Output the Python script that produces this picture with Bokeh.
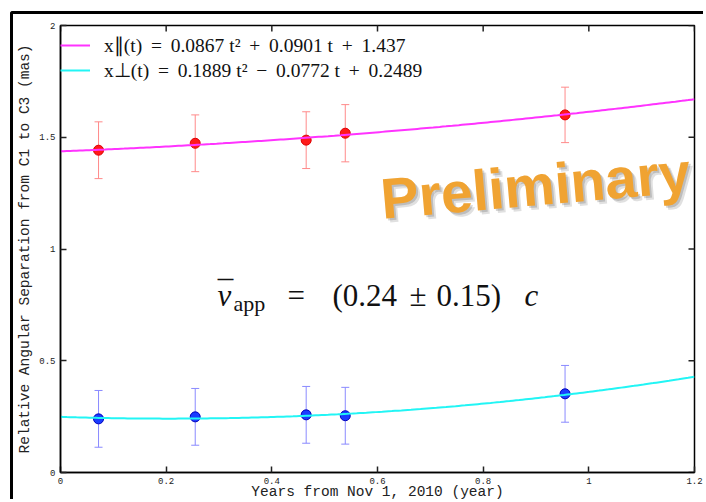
import numpy as np
from bokeh.plotting import figure
from bokeh.models import (ColumnDataSource, Whisker, TeeHead, Range1d,
                          FixedTicker, CustomJSTickFormatter, Label, Legend, LegendItem)
from bokeh.embed import file_html
from bokeh.resources import INLINE

# ---------------- data ----------------
t_obs = [0.072, 0.255, 0.465, 0.539, 0.955]
par_y = [1.442, 1.473, 1.487, 1.518, 1.600]
par_err = [0.127, 0.127, 0.127, 0.128, 0.124]
perp_y = [0.240, 0.249, 0.258, 0.254, 0.352]
perp_err = [0.127, 0.127, 0.127, 0.127, 0.127]

# fit coefficients (a t^2 + b t + c), as printed in the legend
par_coef = [0.0867, 0.0901, 1.437]
perp_coef = [0.1889, -0.0772, 0.2489]

x_ticks = [0, 0.2, 0.4, 0.6, 0.8, 1.0, 1.2]
y_ticks = [0, 0.5, 1.0, 1.5, 2.0]

S = "\u2009"
par_label = "x\u2225(t) " + S + "=" + S + " 0.0867 t\u00b2 " + S + "+" + S + " 0.0901 t " + S + "+" + S + " 1.437"
perp_label = "x\u22a5(t) " + S + "=" + S + " 0.1889 t\u00b2 " + S + "\u2212" + S + " 0.0772 t " + S + "+" + S + " 0.2489"

# ---------------- figure ----------------
p = figure(width=693, height=488, output_backend="svg", toolbar_location=None,
           x_range=Range1d(0, 1.2), y_range=Range1d(0, 2),
           min_border_left=47, min_border_top=11, min_border_right=12, min_border_bottom=29,
           background_fill_color="white", border_fill_color="white")
# outer frame of the original figure (only its top/left edges are in view)
p.styles = {"border-left": "3px solid black", "border-top": "3px solid black",
            "border-top-left-radius": "3px", "margin-left": "10px", "margin-top": "11px"}
p.grid.visible = False
p.outline_line_color = "black"
p.outline_line_width = 1.5

fmt = CustomJSTickFormatter(code="return tick.toFixed(1).replace(/\\.0$/, '');")

def style_axis(ax, ticks, standoff):
    ax.ticker = FixedTicker(ticks=ticks)
    ax.formatter = fmt
    ax.major_tick_in = 6
    ax.major_tick_out = 0
    ax.minor_tick_line_color = None
    ax.major_tick_line_color = "#222222"
    ax.major_tick_line_width = 1.5
    ax.axis_line_color = "black"
    ax.axis_line_width = 1.5
    ax.major_label_text_font = "Liberation Mono"
    ax.major_label_text_font_size = "9px"
    ax.major_label_text_color = "#222222"
    ax.major_label_standoff = standoff
    ax.axis_label_text_font = "Liberation Mono"
    ax.axis_label_text_font_size = "14.5px"
    ax.axis_label_text_font_style = "normal"
    ax.axis_label_text_color = "#222222"

style_axis(p.xaxis[0], x_ticks, 5)
style_axis(p.yaxis[0], y_ticks, 5)
p.yaxis[0].axis_label = "Relative Angular Separation from C1 to C3 (mas)"
p.yaxis[0].axis_label_standoff = 3
p.xaxis[0].axis_label = "Years from Nov 1, 2010 (year)"
p.xaxis[0].axis_label_standoff = -3

# mirrored inward ticks on top and right (half of each dash is clipped by the frame)
p.scatter(x=[p.x_range.end] * len(y_ticks), y=y_ticks, marker="dash", size=12,
          line_color="#222222", line_width=1.5)
p.scatter(x=x_ticks, y=[p.y_range.end] * len(x_ticks), marker="dash", size=12, angle=np.pi / 2,
          line_color="#222222", line_width=1.5)

# ---------------- error bars ----------------
src_par = ColumnDataSource(dict(x=t_obs, y=par_y,
                                lo=[v - e for v, e in zip(par_y, par_err)],
                                hi=[v + e for v, e in zip(par_y, par_err)]))
src_perp = ColumnDataSource(dict(x=t_obs, y=perp_y,
                                 lo=[v - e for v, e in zip(perp_y, perp_err)],
                                 hi=[v + e for v, e in zip(perp_y, perp_err)]))

for src, col in ((src_par, "#ff8a8a"), (src_perp, "#8a8aff")):
    w = Whisker(source=src, base="x", lower="lo", upper="hi", line_color=col, line_width=1,
                upper_head=TeeHead(size=8, line_color=col, line_width=1),
                lower_head=TeeHead(size=8, line_color=col, line_width=1),
                level="underlay")
    p.add_layout(w)

p.scatter("x", "y", source=src_par, size=10, fill_color="#ff1a1a", line_color="#dd0000", line_width=1)
p.scatter("x", "y", source=src_perp, size=10, fill_color="#1a3cff", line_color="#0000bb", line_width=1)

# ---------------- fit curves ----------------
tt = np.linspace(0, 1.2, 200)
yp = par_coef[0] * tt**2 + par_coef[1] * tt + par_coef[2]
yq = perp_coef[0] * tt**2 + perp_coef[1] * tt + perp_coef[2]
r1 = p.line(tt, yp, line_color="#ff33ff", line_width=2)
r2 = p.line(tt, yq, line_color="#22f5f5", line_width=2)

for rend, lab, gh in ((r1, par_label, 40), (r2, perp_label, 90)):
    lg = Legend(items=[LegendItem(label=lab, renderers=[rend])],
                location="top_left", margin=0, padding=5,
                glyph_width=30, glyph_height=gh, label_standoff=14,
                label_text_font="Liberation Serif", label_text_font_size="19.5px",
                label_text_color="#111111",
                border_line_color=None, background_fill_alpha=0)
    p.add_layout(lg)

# ---------------- annotations ----------------
for dx, dy, a in ((4, -4, 0.18), (2, -2, 0.25)):
    p.add_layout(Label(x=0.899, y=1.285, text="Preliminary", angle=5, angle_units="deg",
                       x_offset=dx, y_offset=dy,
                       text_font="Liberation Sans", text_font_style="bold", text_font_size="57px",
                       text_color="#555555", text_alpha=a, text_align="center", text_baseline="middle"))
p.add_layout(Label(x=0.899, y=1.285, text="Preliminary", angle=5, angle_units="deg",
                   text_font="Liberation Sans", text_font_style="bold", text_font_size="57px",
                   text_color="#f0a332", text_align="center", text_baseline="middle"))

mid_y = 0.794
pieces = [
    (0.297, mid_y, "v", "31px", "italic", "left"),
    (0.3123, 0.807, "\u00af", "31px", "normal", "center"),
    (0.3275, 0.756, "app", "22px", "normal", "left"),
    (0.4297, mid_y, "=", "31px", "normal", "left"),
    (0.5149, mid_y, "(0.24", "31px", "normal", "left"),
    (0.6606, mid_y, "\u00b1", "31px", "normal", "left"),
    (0.7117, mid_y, "0.15)", "31px", "normal", "left"),
    (0.8783, mid_y, "c", "31px", "italic", "left"),
]
for x, y, txt, fs, st, al in pieces:
    p.add_layout(Label(x=x, y=y, text=txt, text_font="Liberation Serif", text_font_size=fs,
                       text_font_style=st, text_color="#111111", text_align=al,
                       text_baseline="middle"))

open("out.html", "w").write(file_html(p, INLINE))
